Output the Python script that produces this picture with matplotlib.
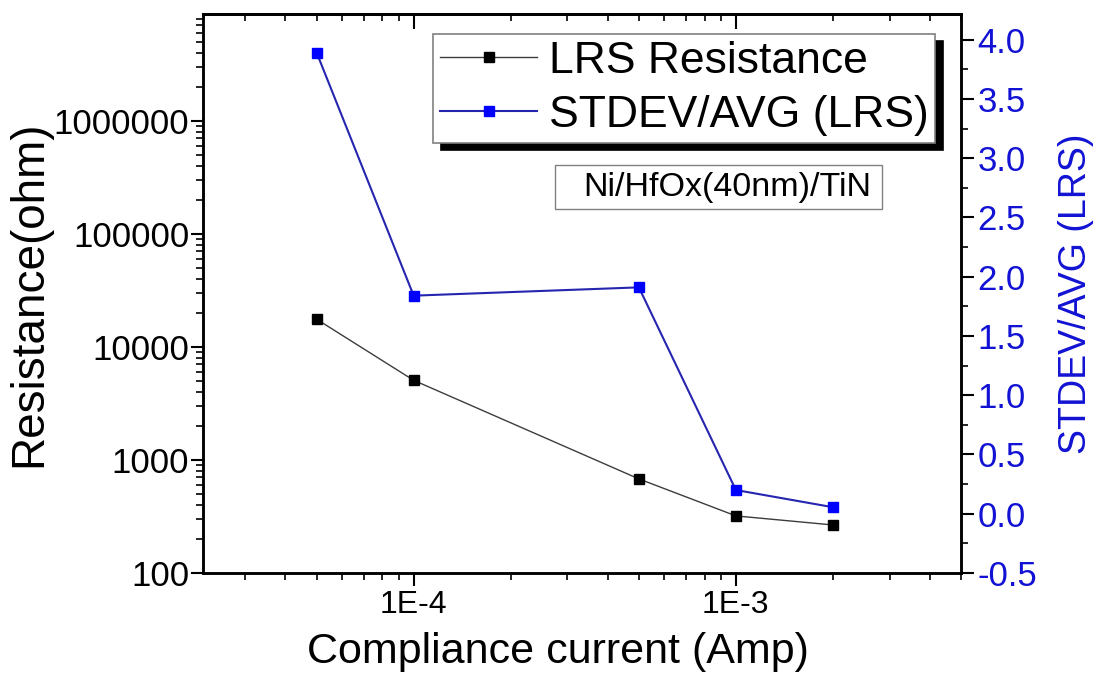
import matplotlib
matplotlib.use('Agg')
import matplotlib.pyplot as plt
from matplotlib.patches import Rectangle
from matplotlib.ticker import FixedLocator, FuncFormatter, LogLocator, MultipleLocator, NullFormatter

plt.rcParams['font.family'] = ['Liberation Sans', 'DejaVu Sans']

# data
current = [5e-5, 1e-4, 5e-4, 1e-3, 2e-3]
lrs_res = [17600, 5070, 680, 320, 266]
stdev_avg = [3.89, 1.84, 1.91, 0.20, 0.055]

x_ticks = [1e-4, 1e-3]
x_ticklabels = ['1E-4', '1E-3']
y_ticks = [100, 1000, 10000, 100000, 1000000]

blue = '#1212d4'

fig = plt.figure(figsize=(10.97, 6.91), dpi=100)
ax = fig.add_axes([0.1851, 0.1708, 0.691, 0.809])
ax2 = ax.twinx()

l1, = ax.plot(current, lrs_res, color='#3c3c3c', lw=1.0, marker='s', ms=7.5,
              mfc='black', mec='black', label='LRS Resistance')
l2, = ax2.plot(current, stdev_avg, color='#2525b0', lw=1.5, marker='s', ms=7.5,
               mfc='#0000ff', mec='#0000ff', label='STDEV/AVG (LRS)')

ax.set_xscale('log')
ax.set_yscale('log')
ax.set_xlim(2.22e-5, 5.0e-3)
ax.set_ylim(100, 8.85e6)
ax2.set_ylim(-0.5, 4.217)

# x ticks
ax.xaxis.set_major_locator(FixedLocator(x_ticks))
ax.xaxis.set_major_formatter(FuncFormatter(lambda v, p: x_ticklabels[x_ticks.index(v)] if v in x_ticks else ''))
ax.xaxis.set_minor_locator(LogLocator(base=10, subs=range(2, 10)))
ax.xaxis.set_minor_formatter(NullFormatter())

# left y ticks
ax.yaxis.set_major_locator(FixedLocator(y_ticks))
ax.yaxis.set_major_formatter(FuncFormatter(lambda v, p: '%d' % v))
ax.yaxis.set_minor_locator(LogLocator(base=10, subs=range(2, 10)))
ax.yaxis.set_minor_formatter(NullFormatter())

# right y ticks
ax2.yaxis.set_major_locator(MultipleLocator(0.5))
ax2.yaxis.set_minor_locator(MultipleLocator(0.25))
ax2.yaxis.set_major_formatter(FuncFormatter(lambda v, p: '%.1f' % v))

ax.tick_params(which='major', direction='out', length=9, width=1.5)
ax.tick_params(which='minor', direction='out', length=5, width=1.2)
ax.tick_params(axis='y', labelsize=25, pad=1)
ax.tick_params(axis='x', labelsize=23, pad=3)
ax2.tick_params(which='major', direction='out', length=9, width=1.5,
                labelsize=25, labelcolor=blue, pad=3)
ax2.tick_params(which='minor', direction='out', length=5, width=1.2)

# inward ticks on top
top = ax.secondary_xaxis('top')
top.xaxis.set_major_locator(FixedLocator(x_ticks))
top.xaxis.set_minor_locator(LogLocator(base=10, subs=range(2, 10)))
top.xaxis.set_major_formatter(NullFormatter())
top.xaxis.set_minor_formatter(NullFormatter())
top.tick_params(which='major', direction='in', length=11, width=1.5)
top.tick_params(which='minor', direction='in', length=5, width=1.2)

for a in (ax, ax2):
    for s in a.spines.values():
        s.set_linewidth(1.8)
top.spines['top'].set_linewidth(1.8)

ax.set_xlabel('Compliance current (Amp)', fontsize=31)
ax.xaxis.set_label_coords(0.468, -0.105)
ax.set_ylabel('Resistance(ohm)', fontsize=33, labelpad=2)
ax2.set_ylabel('STDEV/AVG (LRS)', fontsize=27, color=blue, labelpad=15)

leg = ax2.legend(handles=[l1, l2], loc='upper left', bbox_to_anchor=(0.3034, 0.9642),
                 borderaxespad=0, fontsize=32, handlelength=2.2, handletextpad=0.25,
                 borderpad=0.15, labelspacing=0.3, fancybox=False, framealpha=1,
                 edgecolor='#808080',
                 shadow={'ox': 5.8, 'oy': -5.0, 'color': 'black', 'alpha': 1})
leg.get_frame().set_linewidth(1.2)

# sample label box
ax2.add_patch(Rectangle((0.4644, 0.6512), 0.4314, 0.0787, transform=ax2.transAxes,
                        fc='white', ec='#808080', lw=1.0))
ax2.text(0.5013, 0.690, 'Ni/HfOx(40nm)/TiN', transform=ax2.transAxes,
         ha='left', va='center', fontsize=24.5)

fig.savefig('out.png', dpi=100)
